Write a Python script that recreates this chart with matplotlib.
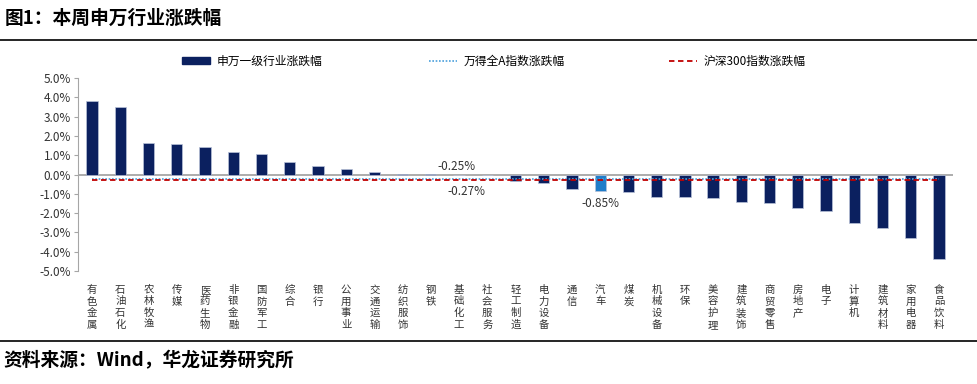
import numpy as np
import matplotlib.pyplot as plt
from matplotlib.lines import Line2D
from matplotlib.patches import Patch

plt.rcParams['font.family'] = ['Noto Sans CJK SC', 'DejaVu Sans']
plt.rcParams['axes.unicode_minus'] = False

# data
industries = ['有色金属', '石油石化', '农林牧渔', '传媒', '医药生物', '非银金融', '国防军工',
              '综合', '银行', '公用事业', '交通运输', '纺织服饰', '钢铁', '基础化工', '社会服务',
              '轻工制造', '电力设备', '通信', '汽车', '煤炭', '机械设备', '环保', '美容护理',
              '建筑装饰', '商贸零售', '房地产', '电子', '计算机', '建筑材料', '家用电器', '食品饮料']
changes = [3.82, 3.48, 1.62, 1.56, 1.42, 1.16, 1.04, 0.64, 0.44, 0.27, 0.12, 0.05, 0.01, -0.02,
           -0.03, -0.36, -0.43, -0.77, -0.85, -0.91, -1.16, -1.17, -1.21, -1.41, -1.48, -1.75,
           -1.90, -2.49, -2.77, -3.27, -4.38]
highlight = '汽车'
wind_a = -0.25
hs300 = -0.27

navy = '#0b205f'
light = '#1f7dc9'
red = '#c00000'
dotblue = '#4a9fdc'

fig = plt.figure(figsize=(9.77, 3.84), dpi=100)
ax = fig.add_axes([78 / 977, 1 - 271 / 384, 875 / 977, 193 / 384])

x = np.arange(len(industries))
colors = [light if name == highlight else navy for name in industries]
ax.bar(x, changes, width=0.4, color=colors, edgecolor='#b8c2d8', linewidth=0.5, zorder=2)
ax.axhline(0, color='#a6a6a6', lw=1.3, zorder=1)
ax.plot(x, np.full(len(x), wind_a), ls=(0, (1, 1)), color=dotblue, lw=1.2, zorder=3)
ax.plot(x, np.full(len(x), hs300), ls=(0, (3, 2)), color=red, lw=1.3, zorder=4)

ax.text(12.9, 0.08, '-0.25%', ha='center', va='bottom', fontsize=8.5, color='#333333')
ax.text(13.25, -0.55, '-0.27%', ha='center', va='top', fontsize=8.5, color='#333333')
ax.text(18, -1.15, '-0.85%', ha='center', va='top', fontsize=8.5, color='#333333')

ax.set_xlim(-0.5, len(x) - 0.5)
ax.set_ylim(-5, 5)
ax.set_yticks(np.arange(-5, 5.1, 1))
ax.set_yticklabels(['%.1f%%' % v for v in np.arange(-5, 5.1, 1)], fontsize=8.5, color='#333333')
ax.set_xticks(x)
ax.set_xticklabels(['\n'.join(name) for name in industries], fontsize=7.5,
                   linespacing=1.2, color='#333333', va='top')
ax.tick_params(axis='x', length=0, pad=10)
ax.tick_params(axis='y', length=3, color='#a6a6a6', pad=2)
for s in ['top', 'right', 'bottom']:
    ax.spines[s].set_visible(False)
ax.spines['left'].set_color('#a6a6a6')

# three legend entries placed where the reference has them
handles = [Patch(color=navy), Line2D([], [], ls=(0, (1, 1)), color=dotblue, lw=1.2),
           Line2D([], [], ls=(0, (3, 2)), color=red, lw=1.3)]
labels = ['申万一级行业涨跌幅', '万得全A指数涨跌幅', '沪深300指数涨跌幅']
starts = [182, 429, 669]
for h, lab, sx in zip(handles, labels, starts):
    leg = fig.legend([h], [lab], loc='center left', bbox_to_anchor=(sx / 977, 1 - 61 / 384),
                     frameon=False, fontsize=8.5, handlelength=2.4, handleheight=0.6,
                     handletextpad=0.5, borderpad=0, borderaxespad=0)

fig.text(5 / 977, 1 - 18 / 384, '图1：本周申万行业涨跌幅', fontsize=13.5, fontweight='bold', va='center')
fig.add_artist(Line2D([0, 1], [1 - 40 / 384, 1 - 40 / 384], color='black', lw=1.2,
                      transform=fig.transFigure))
fig.add_artist(Line2D([0, 1], [1 - 341 / 384, 1 - 341 / 384], color='black', lw=1.2,
                      transform=fig.transFigure))
fig.text(3 / 977, 1 - 361 / 384, '资料来源：Wind，华龙证券研究所', fontsize=13.5,
         fontweight='bold', va='center')

fig.savefig('out.png', dpi=100)
